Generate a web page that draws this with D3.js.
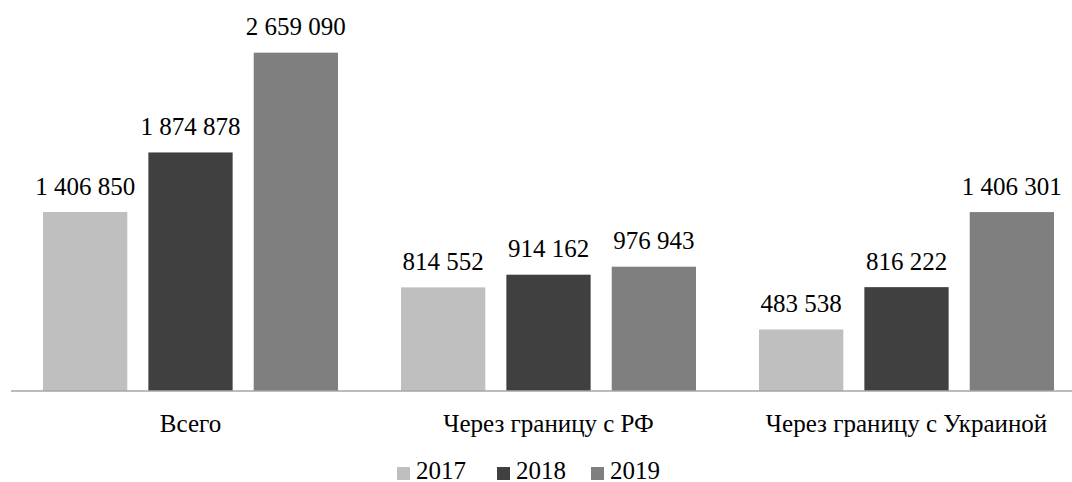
<!DOCTYPE html>
<html lang="ru">
<head>
    <meta charset="UTF-8">
    <title>Chart</title>
    <style>
        body { margin: 0; background: white; }
    </style>
    <script src="https://d3js.org/d3.v7.min.js"></script>
</head>
<body>
    <div id="chart"></div>
    <script>
        // data
        const categories = ["Всего", "Через границу с РФ", "Через границу с Украиной"];
        const years = ["2017", "2018", "2019"];
        const values2017 = [1406850, 814552, 483538];
        const values2018 = [1874878, 914162, 816222];
        const values2019 = [2659090, 976943, 1406301];
        const colors = ["#bfbfbf", "#404040", "#7f7f7f"];

        const series = [values2017, values2018, values2019];
        const width = 1072, height = 482;

        // pick the first serif font that is really installed
        function pickFont() {
            const ctx = document.createElement("canvas").getContext("2d");
            const probe = "Через границу 2 659 090 mmmWWiil";
            const w = f => { ctx.font = "40px " + f; return ctx.measureText(probe).width; };
            const mono = w("monospace"), sans = w("sans-serif");
            const list = ["Liberation Serif", "Tinos", "Times New Roman", "DejaVu Serif", "Noto Serif", "FreeSerif"];
            for (const f of list) {
                const a = w("'" + f + "', monospace"), b = w("'" + f + "', sans-serif");
                if (a !== mono || b !== sans) return { family: "'" + f + "', serif", serif: true };
            }
            return { family: "serif", serif: false };
        }
        const font = pickFont();
        const fs = font.serif ? 25 : 26;

        const svg = d3.select("#chart").append("svg")
            .attr("width", width)
            .attr("height", height)
            .style("font-family", font.family);

        // group scale (the right side of the chart is cut off in the original)
        const x0 = d3.scaleBand()
            .domain(categories)
            .range([11.5, 1085.5])
            .paddingInner(0.176)
            .paddingOuter(0.088);

        const x1 = d3.scaleBand()
            .domain(years)
            .range([0, x0.bandwidth()])
            .paddingInner(0.2);

        const y = d3.scaleLinear()
            .domain([0, 3000000])
            .range([391, 9.3]);

        const fmt = v => d3.format(",")(v).replace(/,/g, " ");

        // bars
        years.forEach((yr, i) => {
            const g = svg.append("g");
            g.selectAll("rect")
                .data(categories)
                .enter().append("rect")
                .attr("x", (d) => x0(d) + x1(yr))
                .attr("y", (d, j) => y(series[i][j]))
                .attr("width", x1.bandwidth())
                .attr("height", (d, j) => y(0) - y(series[i][j]))
                .attr("fill", colors[i]);

            g.selectAll("text")
                .data(categories)
                .enter().append("text")
                .attr("x", (d) => x0(d) + x1(yr) + x1.bandwidth() / 2)
                .attr("y", (d, j) => y(series[i][j]) - 17.5)
                .attr("text-anchor", "middle")
                .attr("font-size", fs)
                .text((d, j) => fmt(series[i][j]));
        });

        // axis line
        svg.append("line")
            .attr("x1", 11).attr("x2", width)
            .attr("y1", y(0)).attr("y2", y(0))
            .attr("stroke", "#a6a6a6")
            .attr("stroke-width", 1.5);

        // category labels
        svg.append("g")
            .selectAll("text")
            .data(categories)
            .enter().append("text")
            .attr("x", d => x0(d) + x0.bandwidth() / 2)
            .attr("y", 432)
            .attr("text-anchor", "middle")
            .attr("font-size", fs)
            .text(d => d);

        // legend
        const legendX = [397, 497, 591];
        const legend = svg.append("g");
        years.forEach((yr, i) => {
            legend.append("rect")
                .attr("x", legendX[i]).attr("y", 467)
                .attr("width", 13).attr("height", 13)
                .attr("fill", colors[i]);
            legend.append("text")
                .attr("x", legendX[i] + 19).attr("y", 479)
                .attr("font-size", fs)
                .text(yr);
        });
    </script>
</body>
</html>
